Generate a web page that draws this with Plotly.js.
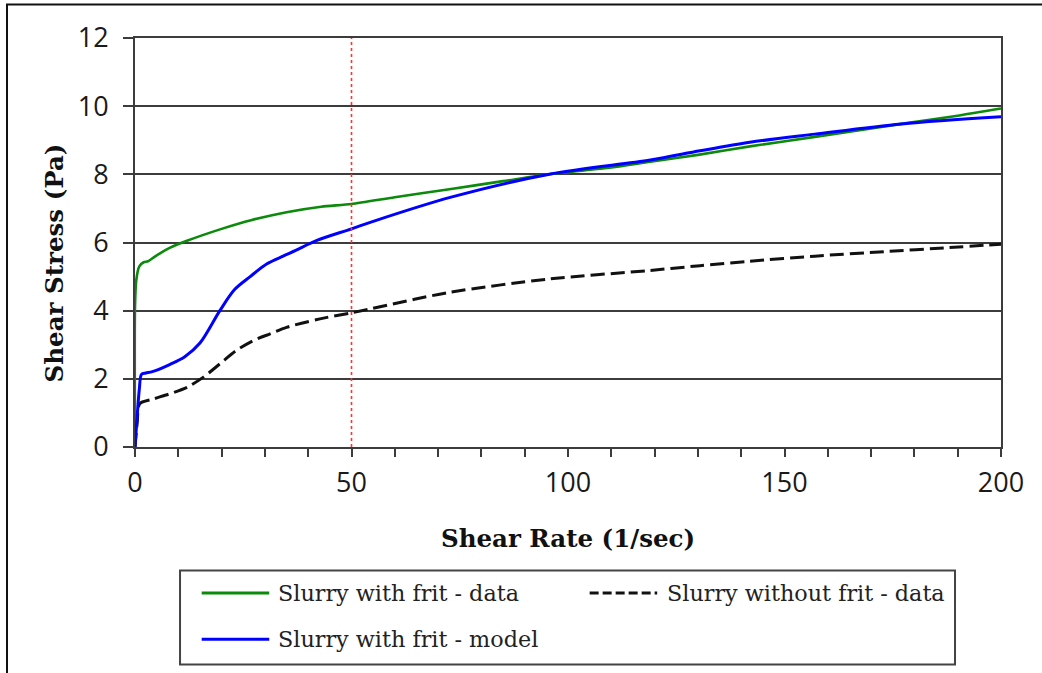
<!DOCTYPE html>
<html>
<head>
<meta charset="utf-8">
<script src="https://cdn.plot.ly/plotly-3.0.1.min.js"></script>
<style>
  html, body { margin: 0; padding: 0; background: #ffffff; }
  #chart { width: 1042px; height: 673px; }
</style>
</head>
<body>
<div id="chart"></div>
<script>
// Shear rate (1/sec) and shear stress (Pa) for each series
const withFritDataRate = [0, 0, 0.3, 1.0, 2.0, 3.0, 4.5, 8, 12, 20, 27, 35, 43, 50, 60, 73, 85, 96, 110, 119, 130, 142, 157, 177, 190, 200];
const withFritDataStress = [0, 4.1, 4.9, 5.3, 5.42, 5.45, 5.58, 5.84, 6.05, 6.4, 6.66, 6.89, 7.05, 7.13, 7.33, 7.57, 7.8, 8.01, 8.2, 8.37, 8.57, 8.82, 9.1, 9.48, 9.72, 9.93];

const withFritModelRate = [0, 0.5, 1.0, 1.5, 2.5, 4, 8, 11.5, 15, 19.6, 23, 26.6, 30.4, 34.2, 37, 42, 50, 55, 73, 96, 119, 130.5, 142, 157, 177, 200];
const withFritModelStress = [0, 0.9, 1.7, 2.13, 2.17, 2.21, 2.42, 2.65, 3.05, 4.0, 4.62, 5.0, 5.37, 5.6, 5.76, 6.06, 6.4, 6.62, 7.33, 8.01, 8.42, 8.69, 8.94, 9.18, 9.48, 9.69];

const withoutFritDataRate = [0, 0.5, 1.1, 4, 8, 12, 15.8, 19.6, 23.4, 27.3, 31.2, 35, 42.7, 49.7, 54.3, 72.7, 95.8, 118.9, 130.5, 142, 157, 173, 188, 200];
const withoutFritDataStress = [0, 0.7, 1.27, 1.4, 1.56, 1.75, 2.05, 2.44, 2.83, 3.12, 3.32, 3.51, 3.76, 3.93, 4.05, 4.54, 4.93, 5.18, 5.32, 5.45, 5.6, 5.73, 5.85, 5.95];

const seriesNames = ['Slurry with frit - data', 'Slurry without frit - data', 'Slurry with frit - model'];
const seriesColors = ['#0b8a0b', '#111111', '#0000ff'];

const markerRate = 50;          // vertical reference line
const xTickValues = [0, 50, 100, 150, 200];
const yTickValues = [0, 2, 4, 6, 8, 10, 12];

const serif = 'DejaVu Serif, serif';
const gridColor = '#3c3c3c';

const traces = [
  {
    x: withFritDataRate, y: withFritDataStress, name: seriesNames[0],
    mode: 'lines', line: {color: seriesColors[0], width: 2.6, shape: 'spline', smoothing: 0.7}
  },
  {
    x: withoutFritDataRate, y: withoutFritDataStress, name: seriesNames[1],
    mode: 'lines', line: {color: seriesColors[1], width: 3, dash: '14px,6px', shape: 'spline', smoothing: 0.8}
  },
  {
    x: withFritModelRate, y: withFritModelStress, name: seriesNames[2],
    mode: 'lines', line: {color: seriesColors[2], width: 3, shape: 'spline', smoothing: 0.9}
  }
];

// Legend box geometry in paper coordinates
const lgX0 = 0.052, lgX1 = 0.9469, lgY0 = -0.5318, lgY1 = -0.302;
const row1 = -0.357, row2 = -0.47;
const col1 = [0.077, 0.163], col2 = [0.525, 0.612];

const shapes = [
  // outer frame
  {type: 'rect', xref: 'paper', yref: 'paper', x0: -0.1478, x1: 1.2, y0: -0.8, y1: 1.0819,
   line: {color: '#111111', width: 2}, fillcolor: 'rgba(0,0,0,0)', layer: 'below'},
  // vertical reference line at the marker rate
  {type: 'line', xref: 'x', yref: 'y', x0: markerRate, x1: markerRate, y0: 0, y1: 12,
   line: {color: '#ff3030', width: 1.6, dash: 'dot'}},
  // legend frame
  {type: 'rect', xref: 'paper', yref: 'paper', x0: lgX0, x1: lgX1, y0: lgY0, y1: lgY1,
   line: {color: '#444444', width: 2}, fillcolor: '#ffffff'},
  // legend samples
  {type: 'line', xref: 'paper', yref: 'paper', x0: col1[0], x1: col1[0] + 0.078, y0: row1, y1: row1,
   line: {color: seriesColors[0], width: 3}},
  {type: 'line', xref: 'paper', yref: 'paper', x0: col2[0], x1: col2[0] + 0.078, y0: row1, y1: row1,
   line: {color: seriesColors[1], width: 3, dash: '9px,4px'}},
  {type: 'line', xref: 'paper', yref: 'paper', x0: col1[0], x1: col1[0] + 0.078, y0: row2, y1: row2,
   line: {color: seriesColors[2], width: 3}}
];

const legendFont = {family: serif, size: 22.3, color: '#222222'};
const annotations = [
  {xref: 'paper', yref: 'paper', x: col1[1], y: row1, text: seriesNames[0], showarrow: false,
   xanchor: 'left', yanchor: 'middle', font: legendFont},
  {xref: 'paper', yref: 'paper', x: col2[1], y: row1, text: seriesNames[1], showarrow: false,
   xanchor: 'left', yanchor: 'middle', font: legendFont},
  {xref: 'paper', yref: 'paper', x: col1[1], y: row2, text: seriesNames[2], showarrow: false,
   xanchor: 'left', yanchor: 'middle', font: legendFont},
  // y axis title
  {xref: 'paper', yref: 'paper', x: -0.0935, y: 0.449, text: '<b>Shear Stress (Pa)</b>', showarrow: false,
   textangle: -90, xanchor: 'center', yanchor: 'middle',
   font: {family: serif, size: 24.5, color: '#111111'}}
];

const layout = {
  width: 1042, height: 673,
  margin: {l: 135, r: 41, t: 38, b: 226, pad: 0},
  paper_bgcolor: '#ffffff', plot_bgcolor: '#ffffff',
  showlegend: false,
  xaxis: {
    range: [0, 200], tickvals: xTickValues, ticks: 'outside', ticklen: 8, tickwidth: 2, tickcolor: gridColor,
    minor: {dtick: 10, ticks: 'outside', ticklen: 8, tickwidth: 2, tickcolor: gridColor, showgrid: false},
    showline: true, linecolor: gridColor, linewidth: 2, mirror: true,
    showgrid: false, zeroline: false, ticklabelstandoff: 3,
    tickfont: {family: 'Open Sans, sans-serif', size: 27, color: '#1a1a1a'},
    title: {text: '<b>Shear Rate (1/sec)</b>', standoff: 30,
            font: {family: serif, size: 24.5, color: '#111111'}}
  },
  yaxis: {
    range: [0, 12], tickvals: yTickValues, ticks: 'outside', ticklen: 10, tickwidth: 2, tickcolor: gridColor,
    showline: true, linecolor: gridColor, linewidth: 2, mirror: true,
    showgrid: true, gridcolor: gridColor, gridwidth: 2, zeroline: false, ticklabelstandoff: 9,
    tickfont: {family: 'Open Sans, sans-serif', size: 27, color: '#1a1a1a'}
  },
  shapes: shapes,
  annotations: annotations
};

Plotly.newPlot('chart', traces, layout, {staticPlot: true, displayModeBar: false});
</script>
</body>
</html>
